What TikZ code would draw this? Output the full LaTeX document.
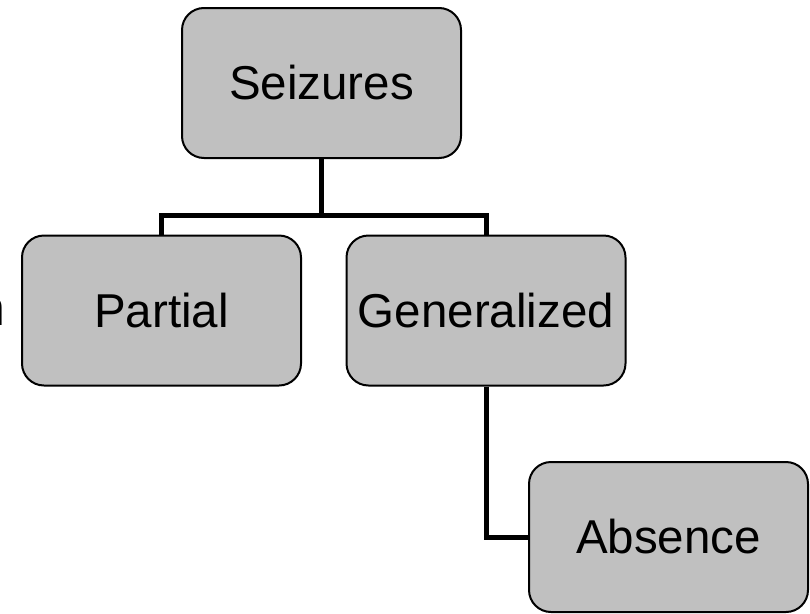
\documentclass[tikz,border=0pt]{standalone}
\usepackage{fontspec}
\setmainfont{Liberation Sans}
\begin{document}
\begin{tikzpicture}[x=1pt, y=-1pt,
  box/.style={draw=black, line width=2pt, fill={rgb,255:red,192;green,192;blue,192},
    rounded corners=22pt, minimum width=279pt, minimum height=150pt,
    inner sep=0pt, font=\fontsize{47.5}{52}\selectfont},
  link/.style={draw=black, line width=5pt, line join=miter}]
  \useasboundingbox (0,0) rectangle (810,613);

  % category boxes
  \node[box] (seiz) at (321.5,83)  {Seizures};
  \node[box] (part) at (161.5,310.5) {Partial};
  \node[box] (gen)  at (486,310.5) {Generalized};
  \node[box] (abs)  at (668.5,537) {Absence};

  % clipped word at the left margin
  \node[anchor=base east, inner sep=0pt, font=\fontsize{50}{54}\selectfont] (cut) at (6,325) {n};

  % tree connectors
  \coordinate (fork) at (321.5,215);
  \draw[link] (seiz.south) -- (fork) -| (part.north);
  \draw[link] (fork) -| (gen.north);
  \draw[link] (gen.south) |- (abs.west);
\end{tikzpicture}
\end{document}
